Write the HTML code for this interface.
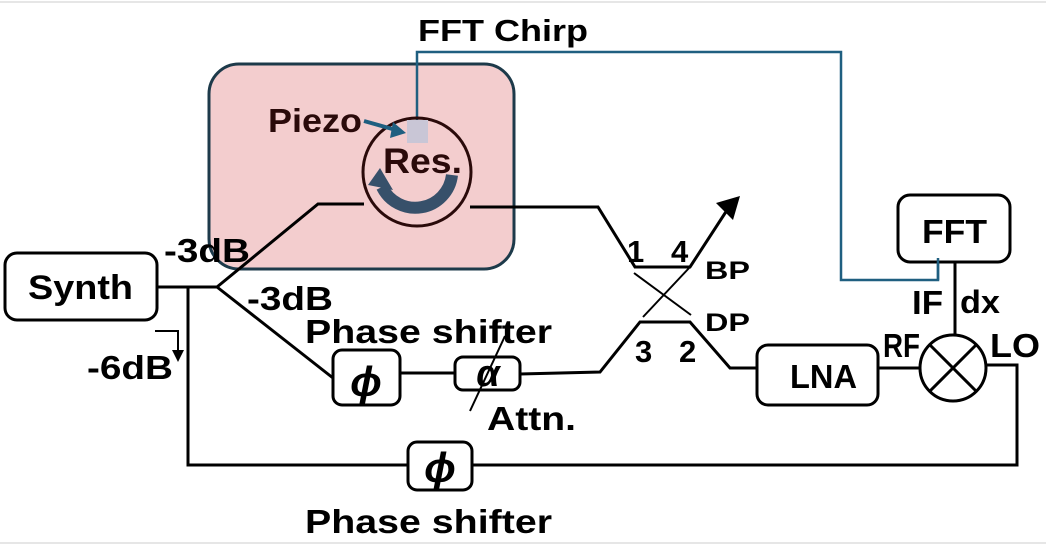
<!DOCTYPE html>
<html><head><style>
html,body{margin:0;padding:0;background:#fff;}
svg{display:block;}
text{font-family:"Liberation Sans",sans-serif;font-weight:bold;}
</style></head><body>
<svg width="1046" height="547" viewBox="0 0 1046 547" xmlns="http://www.w3.org/2000/svg">
<line x1="0" y1="2" x2="1046" y2="2" stroke="#e6e6e6" stroke-width="2"/>
<line x1="0" y1="543" x2="1046" y2="543" stroke="#e6e6e6" stroke-width="2"/>
<rect x="209" y="64" width="305" height="205" rx="30" fill="#f3cdce" stroke="#1d3a4a" stroke-width="3"/>
<polyline points="417,120 417,52 841,52 841,280 938,280 938,258" fill="none" stroke="#1f5f80" stroke-width="2.5"/>
<text x="418" y="41" font-size="31" textLength="170" lengthAdjust="spacingAndGlyphs" fill="#000">FFT Chirp</text>
<circle cx="417" cy="172" r="54" fill="none" stroke="#2a0a0a" stroke-width="3"/>
<rect x="407" y="120" width="21" height="23" fill="#c9c6d6"/>
<text x="268" y="132" font-size="33" textLength="94" lengthAdjust="spacingAndGlyphs" fill="#2a0a0a">Piezo</text>
<line x1="364" y1="121" x2="396" y2="130" stroke="#1f5f80" stroke-width="4"/>
<polygon points="406,133 393,122 390,138" fill="#1f5f80"/>
<text x="383" y="173" font-size="35" textLength="79" lengthAdjust="spacingAndGlyphs" fill="#2a0a0a">Res.</text>
<path d="M452,175 A37,37 0 0 1 382,187" fill="none" stroke="#37506a" stroke-width="12"/>
<polygon points="368,185 393,190 380,168" fill="#37506a"/>
<g fill="none" stroke="#000" stroke-width="3">
<polyline points="157,287 217,287"/>
<polyline points="217,287 318,204 364,204"/>
<polyline points="470,207 598,207 635,267 690,267 731,204"/>
<polyline points="217,287 333,378"/>
<line x1="400" y1="373" x2="455" y2="373"/>
<polyline points="520,374 600,372 640,322 690,322 730,368 757,368"/>
<line x1="878" y1="368" x2="920" y2="368"/>
<polyline points="188,287 188,465 408,465"/>
<polyline points="472,465 1017,465 1017,365 987,365"/>
<line x1="955" y1="262" x2="955" y2="335"/>
</g>
<polygon points="740,196 716,203 733,220" fill="#000"/>
<g stroke="#000" stroke-width="2">
<line x1="634" y1="273" x2="691" y2="315"/>
<line x1="643" y1="317" x2="690" y2="267"/>
</g>
<g fill="#fff" stroke="#000" stroke-width="3">
<rect x="5" y="253" width="152" height="67" rx="12"/>
<rect x="333" y="350" width="67" height="55" rx="9"/>
<rect x="455" y="357" width="65" height="33" rx="8"/>
<rect x="757" y="345" width="121" height="60" rx="11"/>
<rect x="898" y="195" width="112" height="67" rx="12"/>
<rect x="408" y="442" width="64" height="48" rx="9"/>
</g>
<line x1="938" y1="258" x2="938" y2="280" stroke="#1f5f80" stroke-width="2.5"/>
<line x1="470" y1="411" x2="505" y2="336" stroke="#000" stroke-width="2"/>
<circle cx="953" cy="368" r="33" fill="#fff" stroke="#000" stroke-width="3"/>
<line x1="930" y1="345" x2="976" y2="391" stroke="#000" stroke-width="3"/>
<line x1="976" y1="345" x2="930" y2="391" stroke="#000" stroke-width="3"/>
<polyline points="155,331 178,331 178,352" fill="none" stroke="#000" stroke-width="2"/>
<polygon points="172,350 184,350 178,362" fill="#000"/>
<g fill="#000">
<text x="28" y="299" font-size="34" textLength="105" lengthAdjust="spacingAndGlyphs">Synth</text>
<text x="164" y="262" font-size="33" textLength="86" lengthAdjust="spacingAndGlyphs">-3dB</text>
<text x="247" y="310" font-size="33" textLength="86" lengthAdjust="spacingAndGlyphs">-3dB</text>
<text x="305" y="343" font-size="33" textLength="247" lengthAdjust="spacingAndGlyphs">Phase shifter</text>
<text x="87" y="379" font-size="33" textLength="86" lengthAdjust="spacingAndGlyphs">-6dB</text>
<text x="366" y="396" font-size="42" font-style="italic" font-family="Liberation Serif,serif" text-anchor="middle">ϕ</text>
<text x="488" y="386" font-size="38" font-style="italic" font-family="Liberation Serif,serif" text-anchor="middle">α</text>
<text x="487" y="430" font-size="33" textLength="89" lengthAdjust="spacingAndGlyphs">Attn.</text>
<text x="440" y="482" font-size="42" font-style="italic" font-family="Liberation Serif,serif" text-anchor="middle">ϕ</text>
<text x="305" y="533" font-size="33" textLength="247" lengthAdjust="spacingAndGlyphs">Phase shifter</text>
<text x="627" y="262" font-size="31">1</text>
<text x="671" y="262" font-size="31">4</text>
<text x="705" y="279" font-size="25" textLength="45" lengthAdjust="spacingAndGlyphs">BP</text>
<text x="705" y="331" font-size="25" textLength="45" lengthAdjust="spacingAndGlyphs">DP</text>
<text x="635" y="362" font-size="31">3</text>
<text x="679" y="362" font-size="31">2</text>
<text x="790" y="388" font-size="33" textLength="67" lengthAdjust="spacingAndGlyphs">LNA</text>
<text x="922" y="243" font-size="33" textLength="65" lengthAdjust="spacingAndGlyphs">FFT</text>
<text x="912" y="314" font-size="33" textLength="31" lengthAdjust="spacingAndGlyphs">IF</text>
<text x="960" y="313" font-size="32" textLength="40" lengthAdjust="spacingAndGlyphs">dx</text>
<text x="883" y="357" font-size="33" textLength="37" lengthAdjust="spacingAndGlyphs">RF</text>
<text x="990" y="357" font-size="33" textLength="50" lengthAdjust="spacingAndGlyphs">LO</text>
</g>
</svg>
</body></html>
